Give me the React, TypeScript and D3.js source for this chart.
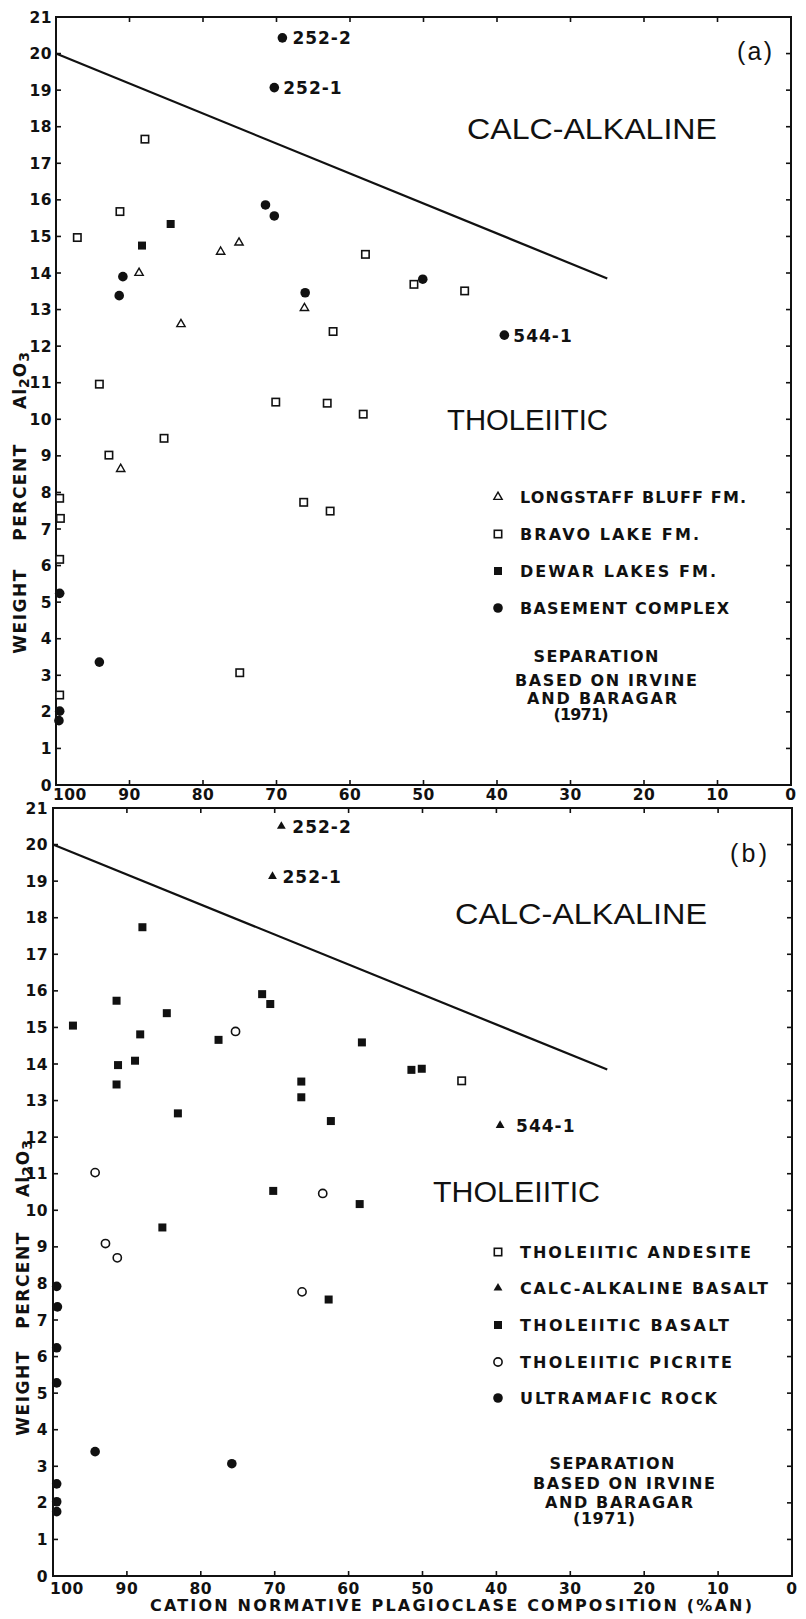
import React from 'react';
import * as d3 from 'd3';

// ---------- DATA ----------
const xTickValues = [100, 90, 80, 70, 60, 50, 40, 30, 20, 10, 0];
const yTickValues = d3.range(0, 22);

// boundary (Irvine & Baragar 1971)
const boundary: [number, number][] = [[100, 20.0], [25, 13.85]];

// Panel (a)
const longstaffBluff: [number, number][] = [
  [88.7, 14.0], [77.6, 14.58], [75.1, 14.83], [83.0, 12.6], [66.2, 13.04], [91.2, 8.64],
];
const bravoLake: [number, number][] = [
  [87.9, 17.66], [91.3, 15.68], [97.1, 14.97], [57.9, 14.51], [62.3, 12.4], [94.1, 10.96],
  [51.3, 13.69], [44.4, 13.51], [70.1, 10.47], [63.1, 10.44], [58.2, 10.14], [85.3, 9.48],
  [92.8, 9.02], [99.5, 7.84], [99.4, 7.29], [99.5, 6.17], [66.3, 7.73], [62.7, 7.49],
  [75.0, 3.07], [99.5, 2.46],
];
const dewarLakes: [number, number][] = [[84.4, 15.34], [88.3, 14.75]];
const basementComplex: [number, number][] = [
  [69.2, 20.43], [70.3, 19.07], [71.5, 15.86], [70.3, 15.56], [90.9, 13.9], [91.4, 13.38],
  [66.1, 13.46], [50.1, 13.83], [39.0, 12.3], [99.5, 5.24], [94.1, 3.36], [99.5, 2.02], [99.6, 1.76],
];
const labelsA = [
  { text: '252-2', series: 3, index: 0 },
  { text: '252-1', series: 3, index: 1 },
  { text: '544-1', series: 3, index: 8 },
];
const legendA = ['LONGSTAFF BLUFF FM.', 'BRAVO LAKE FM.', 'DEWAR LAKES FM.', 'BASEMENT COMPLEX'];

// Panel (b)
const tholeiiticAndesite: [number, number][] = [[44.7, 13.54]];
const calcAlkalineBasalt: [number, number][] = [[69.1, 20.5], [70.3, 19.13], [39.5, 12.32]];
const tholeiiticBasalt: [number, number][] = [
  [87.9, 17.74], [91.4, 15.73], [97.3, 15.05], [84.6, 15.39], [71.7, 15.91], [70.6, 15.64],
  [88.2, 14.81], [77.6, 14.66], [58.2, 14.59], [91.2, 13.97], [88.9, 14.09], [91.4, 13.44],
  [83.1, 12.65], [66.4, 13.52], [66.4, 13.09], [62.4, 12.44], [51.5, 13.84], [50.1, 13.87],
  [70.2, 10.53], [85.2, 9.53], [58.5, 10.17], [62.7, 7.56],
];
const tholeiiticPicrite: [number, number][] = [
  [75.3, 14.89], [94.3, 11.03], [63.5, 10.46], [92.9, 9.09], [91.3, 8.7], [66.3, 7.77],
];
const ultramaficRock: [number, number][] = [
  [99.5, 7.92], [99.4, 7.36], [99.5, 6.24], [99.5, 5.28], [94.3, 3.4], [75.8, 3.07],
  [99.5, 2.52], [99.5, 2.03], [99.5, 1.76],
];
const labelsB = [
  { text: '252-2', series: 1, index: 0 },
  { text: '252-1', series: 1, index: 1 },
  { text: '544-1', series: 1, index: 2 },
];
const legendB = ['THOLEIITIC ANDESITE', 'CALC-ALKALINE BASALT', 'THOLEIITIC BASALT', 'THOLEIITIC PICRITE', 'ULTRAMAFIC ROCK'];

const noteLines = ['SEPARATION', 'BASED ON IRVINE', 'AND BARAGAR', '(1971)'];

// ---------- STYLE / LAYOUT ----------
const INK = '#111';
const BOLD = "'DejaVu Sans', sans-serif";
const LIGHT = "'Liberation Sans', Arial, sans-serif";

type Sym = 'triOpen' | 'sqOpen' | 'sqFilled' | 'circFilled' | 'triFilled' | 'circOpen';

function Marker({ sym, x, y }: { sym: Sym; x: number; y: number }) {
  const sw = 1.6;
  if (sym === 'circFilled') return <circle cx={x} cy={y} r={4.8} fill={INK} />;
  if (sym === 'circOpen') return <circle cx={x} cy={y} r={4.1} fill="#fff" stroke={INK} strokeWidth={sw} />;
  if (sym === 'sqOpen') return <rect x={x - 3.7} y={y - 3.7} width={7.4} height={7.4} fill="#fff" stroke={INK} strokeWidth={sw} />;
  if (sym === 'sqFilled') return <rect x={x - 4} y={y - 4} width={8} height={8} fill={INK} />;
  const path = d3.symbol().type(d3.symbolTriangle).size(sym === 'triFilled' ? 34 : 30)();
  if (sym === 'triFilled') return <path d={path || ''} transform={`translate(${x},${y})`} fill={INK} />;
  return <path d={path || ''} transform={`translate(${x},${y})`} fill="#fff" stroke={INK} strokeWidth={1.4} />;
}

interface PanelCfg {
  frame: { left: number; right: number; top: number; bottom: number };
  series: { sym: Sym; data: [number, number][] }[];
  labels: { text: string; series: number; index: number }[];
  labelOffset: number[];
  legend: string[];
  legendY: number[];
  legendW: number[];
  tag: string; tagX: number; tagY: number; tagW: number;
  calc: { x: number; y: number; w: number };
  thol: { x: number; y: number; w: number };
  notes: { cx: number; y: number; w: number }[];
  ylab: { x: number; weight: number; percent: number; al: number };
  xLabelY: number;
  yLabelDx: number;
}

function Panel({ cfg }: { cfg: PanelCfg }) {
  const { frame } = cfg;
  const x = d3.scaleLinear().domain([100, 0]).range([frame.left, frame.right]);
  const y = d3.scaleLinear().domain([0, 21]).range([frame.bottom, frame.top]);
  const line = d3.line<[number, number]>().x(d => x(d[0])).y(d => y(d[1]));
  const tick = 5;
  return (
    <g>
      {/* frame */}
      <rect x={frame.left} y={frame.top} width={frame.right - frame.left} height={frame.bottom - frame.top}
        fill="none" stroke={INK} strokeWidth={2} />
      {/* x ticks top & bottom */}
      {xTickValues.filter(v => v !== 0 && v !== 100).map(v => (
        <g key={'xt' + v}>
          <line x1={x(v)} x2={x(v)} y1={frame.bottom} y2={frame.bottom - tick} stroke={INK} strokeWidth={1.6} />
          <line x1={x(v)} x2={x(v)} y1={frame.top} y2={frame.top + tick} stroke={INK} strokeWidth={1.6} />
        </g>
      ))}
      {/* y ticks left & right */}
      {yTickValues.filter(v => v !== 0 && v !== 21).map(v => (
        <g key={'yt' + v}>
          <line x1={frame.left} x2={frame.left + tick} y1={y(v)} y2={y(v)} stroke={INK} strokeWidth={1.6} />
          <line x1={frame.right} x2={frame.right - tick} y1={y(v)} y2={y(v)} stroke={INK} strokeWidth={1.6} />
        </g>
      ))}
      {/* x tick labels */}
      {xTickValues.map(v => (
        <text key={'xl' + v} x={v === 100 ? x(v) - 3 : x(v)} y={cfg.xLabelY} textAnchor={v === 100 ? 'start' : 'middle'}
          fontFamily={BOLD} fontWeight="bold" fontSize={15.5} fill={INK} letterSpacing={0.5}>{v}</text>
      ))}
      {/* y tick labels */}
      {yTickValues.map(v => (
        <text key={'yl' + v} x={frame.left - cfg.yLabelDx} y={y(v) + 5.5} textAnchor="end"
          fontFamily={BOLD} fontWeight="bold" fontSize={15.5} fill={INK} letterSpacing={0.5}>{v}</text>
      ))}
      {/* y axis title */}
      <g fontFamily={BOLD} fontWeight="bold" fontSize={17} fill={INK}>
        <text transform={`translate(${cfg.ylab.x},${cfg.ylab.weight}) rotate(-90)`} textAnchor="middle" dominantBaseline="central" letterSpacing={1.5}>WEIGHT</text>
        <text transform={`translate(${cfg.ylab.x},${cfg.ylab.percent}) rotate(-90)`} textAnchor="middle" dominantBaseline="central" letterSpacing={1.5}>PERCENT</text>
        <text transform={`translate(${cfg.ylab.x},${cfg.ylab.al}) rotate(-90)`} textAnchor="middle" dominantBaseline="central" letterSpacing={1}>
          <tspan>Al</tspan><tspan dy={4} fontSize={14}>2</tspan><tspan dy={-4}>O</tspan><tspan dy={4} fontSize={14}>3</tspan>
        </text>
      </g>
      {/* boundary line */}
      <path d={line(boundary) || ''} fill="none" stroke={INK} strokeWidth={2.2} />
      {/* field labels */}
      <text x={cfg.calc.x} y={cfg.calc.y} fontFamily={LIGHT} fontSize={29} fill={INK} textLength={cfg.calc.w} lengthAdjust="spacingAndGlyphs">CALC-ALKALINE</text>
      <text x={cfg.thol.x} y={cfg.thol.y} fontFamily={LIGHT} fontSize={29} fill={INK} textLength={cfg.thol.w} lengthAdjust="spacingAndGlyphs">THOLEIITIC</text>
      <text x={cfg.tagX} y={cfg.tagY} fontFamily={LIGHT} fontSize={25} fill={INK} textLength={cfg.tagW} lengthAdjust="spacing">{cfg.tag}</text>
      {/* points */}
      {cfg.series.map((s, si) => s.data.map((d, i) => (
        <Marker key={si + '-' + i} sym={s.sym} x={x(d[0])} y={y(d[1])} />
      )))}
      {/* point labels */}
      {cfg.labels.map((l, i) => {
        const d = cfg.series[l.series].data[l.index];
        return (
          <text key={'pl' + i} x={x(d[0]) + cfg.labelOffset[i]} y={y(d[1]) + 6.5} fontFamily={BOLD} fontWeight="bold"
            fontSize={17} fill={INK} letterSpacing={1}>{l.text}</text>
        );
      })}
      {/* legend */}
      {cfg.legend.map((t, i) => (
        <g key={'lg' + i}>
          <Marker sym={cfg.series[i].sym} x={498} y={cfg.legendY[i]} />
          <text x={520} y={cfg.legendY[i] + 6} fontFamily={BOLD} fontWeight="bold" fontSize={16} fill={INK}
            textLength={cfg.legendW[i]} lengthAdjust="spacing">{t}</text>
        </g>
      ))}
      {/* note */}
      {noteLines.map((t, i) => (
        <text key={'nt' + i} x={cfg.notes[i].cx - cfg.notes[i].w / 2} y={cfg.notes[i].y + 6} fontFamily={BOLD} fontWeight="bold"
          fontSize={16} fill={INK} textLength={cfg.notes[i].w} lengthAdjust="spacing">{t}</text>
      ))}
    </g>
  );
}

const cfgA: PanelCfg = {
  frame: { left: 56, right: 791, top: 17, bottom: 785 },
  series: [
    { sym: 'triOpen', data: longstaffBluff },
    { sym: 'sqOpen', data: bravoLake },
    { sym: 'sqFilled', data: dewarLakes },
    { sym: 'circFilled', data: basementComplex },
  ],
  labels: labelsA,
  labelOffset: [10, 9, 9],
  legend: legendA,
  legendY: [497, 534, 571, 608],
  legendW: [226, 179, 196, 209],
  tag: '(a)', tagX: 737, tagY: 60, tagW: 35,
  calc: { x: 467, y: 139, w: 250 },
  thol: { x: 447, y: 430, w: 161 },
  notes: [
    { cx: 596, y: 656, w: 125 },
    { cx: 606, y: 680, w: 182 },
    { cx: 602, y: 698, w: 150 },
    { cx: 581, y: 714, w: 55 },
  ],
  ylab: { x: 20, weight: 611, percent: 492, al: 380 },
  xLabelY: 800,
  yLabelDx: 4,
};

const cfgB: PanelCfg = {
  frame: { left: 53, right: 792, top: 808, bottom: 1576 },
  series: [
    { sym: 'sqOpen', data: tholeiiticAndesite },
    { sym: 'triFilled', data: calcAlkalineBasalt },
    { sym: 'sqFilled', data: tholeiiticBasalt },
    { sym: 'circOpen', data: tholeiiticPicrite },
    { sym: 'circFilled', data: ultramaficRock },
  ],
  labels: labelsB,
  labelOffset: [11, 10, 16],
  legend: legendB,
  legendY: [1252, 1288, 1325, 1362, 1398],
  legendW: [231, 248, 209, 212, 197],
  tag: '(b)', tagX: 730, tagY: 862, tagW: 37,
  calc: { x: 455, y: 924, w: 252 },
  thol: { x: 433, y: 1202, w: 167 },
  notes: [
    { cx: 612, y: 1463, w: 125 },
    { cx: 624, y: 1483, w: 182 },
    { cx: 619, y: 1502, w: 148 },
    { cx: 604, y: 1518, w: 62 },
  ],
  ylab: { x: 23, weight: 1393, percent: 1280, al: 1168 },
  xLabelY: 1594,
  yLabelDx: 5,
};

export default function App() {
  return (
    <div style={{ position: 'absolute', left: 0, top: 0 }}>
      <svg width={806} height={1619} style={{ display: 'block', background: '#fff' }}>
        <rect width={806} height={1619} fill="#fff" />
        <Panel cfg={cfgA} />
        <Panel cfg={cfgB} />
        <text x={150} y={1611} fontFamily={BOLD} fontWeight="bold" fontSize={16} fill={INK}
          textLength={602} lengthAdjust="spacing">CATION NORMATIVE PLAGIOCLASE COMPOSITION (%AN)</text>
      </svg>
    </div>
  );
}
